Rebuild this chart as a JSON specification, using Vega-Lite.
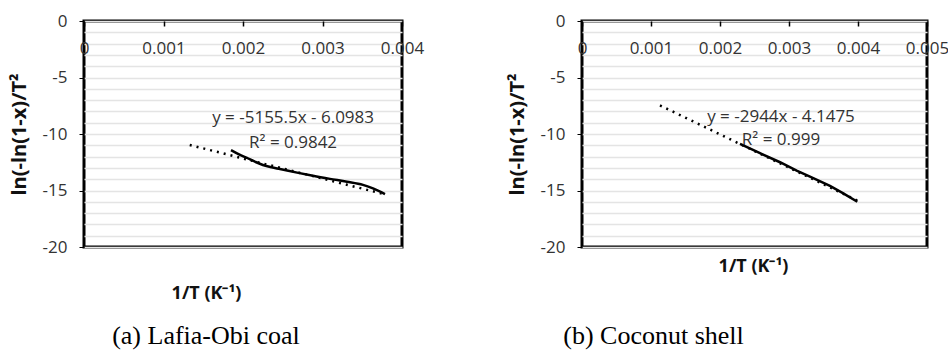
{
  "$schema": "https://vega.github.io/schema/vega-lite/v6.json",
  "background": "white",
  "padding": {"left": 7, "top": 10, "right": 0, "bottom": 0},
  "spacing": 79,
  "config": {
    "view": {"stroke": "black", "strokeWidth": 3},
    "font": "Open Sans",
    "axis": {"labelColor": "#333333", "titleColor": "#111111", "labelFont": "Open Sans", "titleFont": "Open Sans"}
  },
  "datasets": {
    "lafia": [
      {"x": 0.001849, "y": -11.42},
      {"x": 0.00195, "y": -11.80},
      {"x": 0.00205, "y": -12.12},
      {"x": 0.00215, "y": -12.45},
      {"x": 0.00225, "y": -12.74},
      {"x": 0.00236, "y": -12.95},
      {"x": 0.002465, "y": -13.10},
      {"x": 0.00268, "y": -13.42},
      {"x": 0.00288, "y": -13.70},
      {"x": 0.003094, "y": -13.97},
      {"x": 0.003308, "y": -14.22},
      {"x": 0.003509, "y": -14.50},
      {"x": 0.003635, "y": -14.82},
      {"x": 0.003786, "y": -15.31}
    ],
    "lafia_trend": [
      {"x": 0.00133, "y": -10.97},
      {"x": 0.00379, "y": -15.35}
    ],
    "lafia_eq": [
      {"x": 0.00263, "y": -8.58, "label": "y = -5155.5x - 6.0983"},
      {"x": 0.00263, "y": -10.8, "label": "R² = 0.9842"}
    ],
    "coconut": [
      {"x": 0.00229, "y": -10.88},
      {"x": 0.00258, "y": -11.70},
      {"x": 0.00287, "y": -12.50},
      {"x": 0.003111, "y": -13.25},
      {"x": 0.003304, "y": -13.78},
      {"x": 0.003594, "y": -14.60},
      {"x": 0.003787, "y": -15.25},
      {"x": 0.00399, "y": -16.0}
    ],
    "coconut_trend": [
      {"x": 0.00113, "y": -7.47},
      {"x": 0.00399, "y": -15.89}
    ],
    "coconut_eq": [
      {"x": 0.002884, "y": -8.5, "label": "y = -2944x - 4.1475"},
      {"x": 0.002884, "y": -10.5, "label": "R² = 0.999"}
    ]
  },
  "hconcat": [
    {
      "width": 318,
      "height": 226,
      "title": {"text": "(a) Lafia-Obi coal", "orient": "bottom", "anchor": "middle", "frame": "group", "dx": -37, "offset": 21, "font": "Liberation Serif", "fontSize": 26, "fontWeight": "normal", "color": "black"},
      "encoding": {
        "x": {
          "field": "x", "type": "quantitative",
          "scale": {"domain": [0, 0.004], "nice": false, "zero": false},
          "axis": {
            "orient": "top", "values": [0, 0.001, 0.002, 0.003, 0.004],
            "labelExpr": "datum.value === 0 ? '0' : format(datum.value, '.3f')",
            "domain": false, "grid": false, "tickSize": -5, "tickColor": "black", "tickWidth": 1.5,
            "labelPadding": -22, "labelBaseline": "middle", "labelFlush": false, "labelOverlap": false, "labelBound": false,
            "labelFontSize": 17,
            "title": "1/T (K⁻¹)", "titleX": 122, "titleY": 272, "titleAlign": "center", "titleBaseline": "middle",
            "titleFontSize": 18, "titleFontWeight": "bold"
          }
        },
        "y": {
          "field": "y", "type": "quantitative",
          "scale": {"domain": [-20, 0], "nice": false, "zero": false},
          "axis": {
            "values": [-20, -19, -18, -17, -16, -15, -14, -13, -12, -11, -10, -9, -8, -7, -6, -5, -4, -3, -2, -1, 0],
            "labelExpr": "datum.value % 5 === 0 ? '' + datum.value : ''",
            "tickOpacity": {"condition": {"test": "datum.value % 5 === 0", "value": 1}, "value": 0},
            "tickSize": 5, "tickColor": "black", "tickWidth": 1, "domain": false,
            "grid": true, "gridColor": "#e4e4e4", "gridWidth": 1.5,
            "labelPadding": 12, "labelFontSize": 17, "labelOverlap": false, "labelFlush": false,
            "title": "ln(-ln(1-x)/T²", "titleX": -65, "titleY": 113, "titleAngle": -90, "titleAlign": "center", "titleBaseline": "middle",
            "titleFontSize": 20, "titleFontWeight": "bold"
          }
        }
      },
      "layer": [
        {"data": {"name": "lafia_trend"}, "mark": {"type": "line", "color": "black", "strokeWidth": 2.5, "strokeDash": [2, 5]}},
        {"data": {"name": "lafia"}, "mark": {"type": "line", "color": "black", "strokeWidth": 2.5, "interpolate": "monotone"}},
        {"data": {"name": "lafia_eq"}, "mark": {"type": "text", "fontSize": 17, "font": "Open Sans", "color": "#333333"}, "encoding": {"text": {"field": "label"}}}
      ]
    },
    {
      "width": 345,
      "height": 226,
      "title": {"text": "(b) Coconut shell", "orient": "bottom", "anchor": "middle", "frame": "group", "dx": -101, "offset": 48, "font": "Liberation Serif", "fontSize": 26, "fontWeight": "normal", "color": "black"},
      "encoding": {
        "x": {
          "field": "x", "type": "quantitative",
          "scale": {"domain": [0, 0.005], "nice": false, "zero": false},
          "axis": {
            "orient": "top", "values": [0, 0.001, 0.002, 0.003, 0.004, 0.005],
            "labelExpr": "datum.value === 0 ? '0' : format(datum.value, '.3f')",
            "domain": false, "grid": false, "tickSize": -5, "tickColor": "black", "tickWidth": 1.5,
            "labelPadding": -22, "labelBaseline": "middle", "labelFlush": false, "labelOverlap": false, "labelBound": false,
            "labelFontSize": 17,
            "title": "1/T (K⁻¹)", "titleX": 171, "titleY": 245, "titleAlign": "center", "titleBaseline": "middle",
            "titleFontSize": 18, "titleFontWeight": "bold"
          }
        },
        "y": {
          "field": "y", "type": "quantitative",
          "scale": {"domain": [-20, 0], "nice": false, "zero": false},
          "axis": {
            "values": [-20, -19, -18, -17, -16, -15, -14, -13, -12, -11, -10, -9, -8, -7, -6, -5, -4, -3, -2, -1, 0],
            "labelExpr": "datum.value % 5 === 0 ? '' + datum.value : ''",
            "tickOpacity": {"condition": {"test": "datum.value % 5 === 0", "value": 1}, "value": 0},
            "tickSize": 5, "tickColor": "black", "tickWidth": 1, "domain": false,
            "grid": true, "gridColor": "#e4e4e4", "gridWidth": 1.5,
            "labelPadding": 12, "labelFontSize": 17, "labelOverlap": false, "labelFlush": false,
            "title": "ln(-ln(1-x)/T²", "titleX": -65, "titleY": 113, "titleAngle": -90, "titleAlign": "center", "titleBaseline": "middle",
            "titleFontSize": 20, "titleFontWeight": "bold"
          }
        }
      },
      "layer": [
        {"data": {"name": "coconut_trend"}, "mark": {"type": "line", "color": "black", "strokeWidth": 2.5, "strokeDash": [2, 5]}},
        {"data": {"name": "coconut"}, "mark": {"type": "line", "color": "black", "strokeWidth": 2.5}},
        {"data": {"name": "coconut_eq"}, "mark": {"type": "text", "fontSize": 17, "font": "Open Sans", "color": "#333333"}, "encoding": {"text": {"field": "label"}}}
      ]
    }
  ]
}
